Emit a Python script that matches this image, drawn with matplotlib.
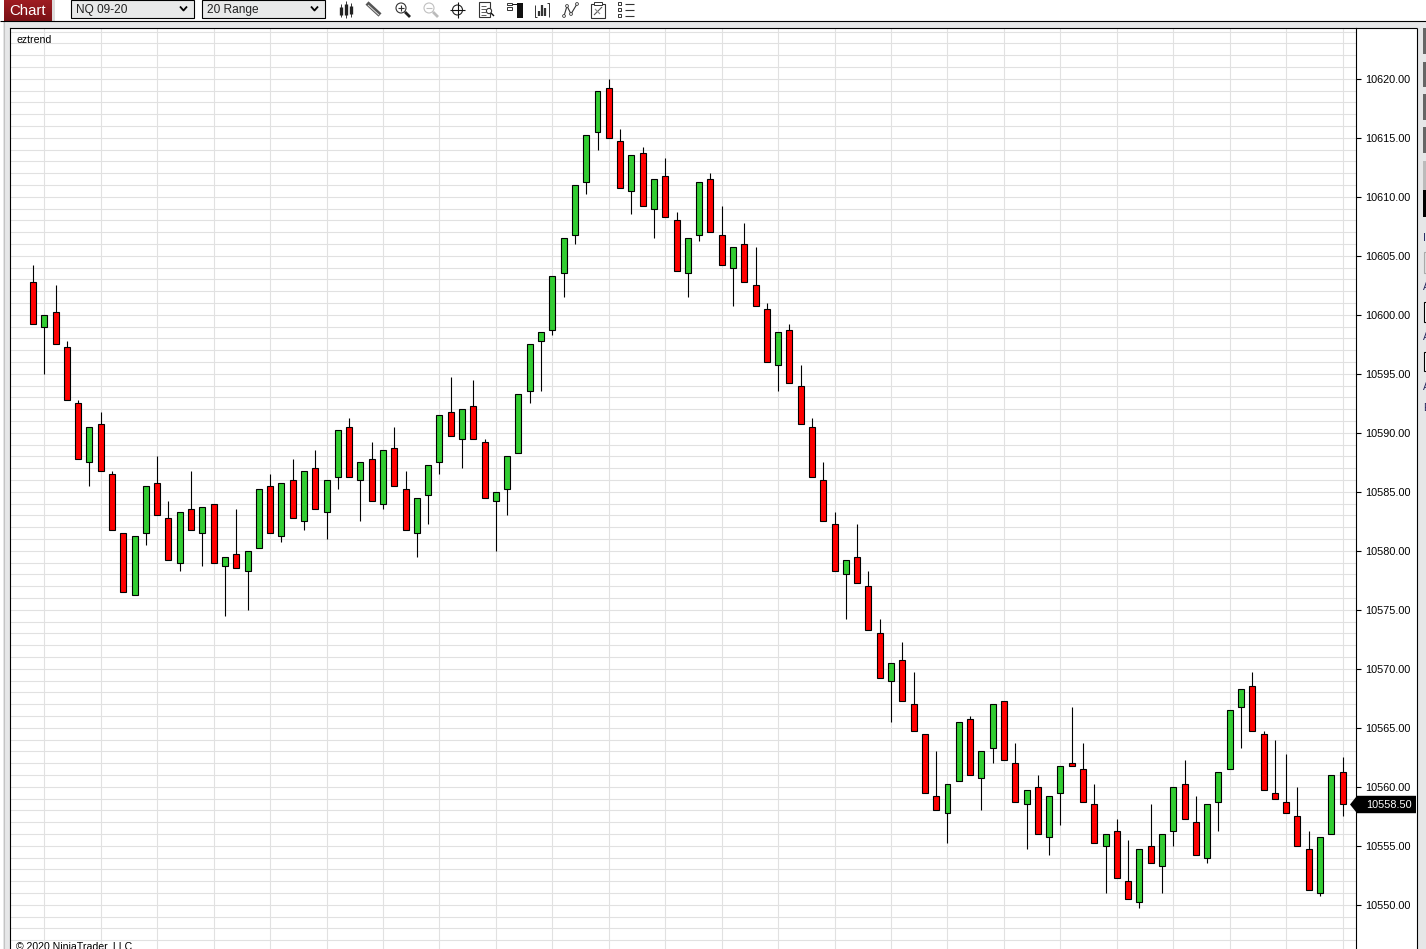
import numpy as np
import matplotlib
matplotlib.use('Agg')
import matplotlib.pyplot as plt
from matplotlib.patches import Rectangle, Circle, Polygon
from matplotlib.ticker import MultipleLocator, FormatStrFormatter, FixedLocator
from matplotlib.transforms import blended_transform_factory

plt.rcParams['font.family'] = ['Liberation Sans', 'DejaVu Sans']

opens = [10602.75, 10599.00, 10600.25, 10597.25, 10592.50, 10587.50, 10590.75, 10586.50, 10581.50, 10576.25,
         10581.50, 10585.75, 10582.75, 10579.00, 10583.50, 10581.50, 10584.00, 10578.75, 10579.75, 10578.25,
         10580.25, 10585.50, 10581.25, 10586.00, 10582.50, 10587.00, 10583.25, 10586.25, 10590.50, 10586.00,
         10587.75, 10584.00, 10588.75, 10585.25, 10581.50, 10584.75, 10587.50, 10591.75, 10589.50, 10592.25,
         10589.25, 10584.25, 10585.25, 10588.25, 10593.50, 10597.75, 10598.75, 10603.50, 10606.75, 10611.25,
         10615.50, 10619.25, 10614.75, 10610.50, 10613.75, 10609.00, 10611.75, 10608.00, 10603.50, 10606.75,
         10611.50, 10606.75, 10604.00, 10606.00, 10602.50, 10600.50, 10595.75, 10598.75, 10594.00, 10590.50,
         10586.00, 10582.25, 10578.00, 10579.50, 10577.00, 10573.00, 10569.00, 10570.75, 10567.00, 10564.50,
         10559.25, 10557.75, 10560.50, 10565.75, 10560.75, 10563.25, 10567.25, 10562.00, 10558.50, 10560.00,
         10555.75, 10559.50, 10562.00, 10561.50, 10558.50, 10555.00, 10556.25, 10552.00, 10550.25, 10555.00,
         10553.25, 10556.25, 10560.25, 10557.00, 10554.00, 10558.75, 10561.50, 10566.75, 10568.50, 10564.50,
         10559.50, 10558.75, 10557.50, 10554.75, 10551.00, 10556.00, 10561.25]
closes = [10599.25, 10600.00, 10597.50, 10592.75, 10587.75, 10590.50, 10586.75, 10581.75, 10576.50, 10581.25,
          10585.50, 10583.00, 10579.25, 10583.25, 10581.75, 10583.75, 10579.00, 10579.50, 10578.50, 10580.00,
          10585.25, 10581.50, 10585.75, 10582.75, 10586.75, 10583.50, 10586.00, 10590.25, 10586.25, 10587.50,
          10584.25, 10588.50, 10585.50, 10581.75, 10584.50, 10587.25, 10591.50, 10589.75, 10592.00, 10589.50,
          10584.50, 10585.00, 10588.00, 10593.25, 10597.50, 10598.50, 10603.25, 10606.50, 10611.00, 10615.25,
          10619.00, 10615.00, 10610.75, 10613.50, 10609.25, 10611.50, 10608.25, 10603.75, 10606.50, 10611.25,
          10607.00, 10604.25, 10605.75, 10602.75, 10600.75, 10596.00, 10598.50, 10594.25, 10590.75, 10586.25,
          10582.50, 10578.25, 10579.25, 10577.25, 10573.25, 10569.25, 10570.50, 10567.25, 10564.75, 10559.50,
          10558.00, 10560.25, 10565.50, 10561.00, 10563.00, 10567.00, 10562.25, 10558.75, 10559.75, 10556.00,
          10559.25, 10561.75, 10561.75, 10558.75, 10555.25, 10556.00, 10552.25, 10550.50, 10554.75, 10553.50,
          10556.00, 10560.00, 10557.25, 10554.25, 10558.50, 10561.25, 10566.50, 10568.25, 10564.75, 10559.75,
          10559.00, 10557.75, 10555.00, 10551.25, 10555.75, 10561.00, 10558.50]
highs = [10604.25, 10600.00, 10602.50, 10597.75, 10592.75, 10590.50, 10591.75, 10586.75, 10581.50, 10581.25,
         10585.50, 10588.00, 10584.25, 10583.25, 10586.75, 10583.75, 10584.00, 10579.50, 10583.50, 10580.00,
         10585.25, 10586.50, 10585.75, 10587.75, 10586.75, 10588.50, 10586.00, 10590.25, 10591.25, 10587.50,
         10589.25, 10588.50, 10590.50, 10586.75, 10584.50, 10587.25, 10591.50, 10594.75, 10592.00, 10594.50,
         10589.50, 10585.00, 10588.00, 10593.25, 10597.50, 10598.50, 10603.25, 10606.50, 10611.00, 10615.25,
         10619.00, 10620.00, 10615.75, 10613.50, 10614.25, 10611.50, 10613.25, 10608.75, 10606.50, 10611.25,
         10612.00, 10609.25, 10605.75, 10607.75, 10605.75, 10601.00, 10598.50, 10599.25, 10595.75, 10591.25,
         10587.50, 10583.25, 10579.25, 10582.25, 10578.25, 10574.25, 10570.50, 10572.25, 10569.75, 10564.50,
         10563.00, 10560.25, 10565.50, 10566.00, 10563.00, 10567.00, 10567.25, 10563.75, 10559.75, 10561.00,
         10559.25, 10561.75, 10566.75, 10563.75, 10560.25, 10556.00, 10557.25, 10555.50, 10554.75, 10558.50,
         10556.00, 10560.00, 10562.25, 10559.25, 10558.50, 10561.25, 10566.50, 10568.25, 10569.75, 10564.75,
         10564.00, 10562.75, 10560.00, 10556.25, 10555.75, 10561.00, 10562.50]
lows = [10599.25, 10595.00, 10597.50, 10592.75, 10587.75, 10585.50, 10586.75, 10581.75, 10576.50, 10576.25,
        10580.50, 10583.00, 10579.25, 10578.25, 10581.75, 10578.75, 10579.00, 10574.50, 10578.50, 10575.00,
        10580.25, 10581.50, 10580.75, 10582.75, 10581.75, 10583.50, 10581.00, 10585.25, 10586.25, 10582.50,
        10584.25, 10583.50, 10585.50, 10581.75, 10579.50, 10582.25, 10586.50, 10589.75, 10587.00, 10589.50,
        10584.50, 10580.00, 10583.00, 10588.25, 10592.50, 10593.50, 10598.25, 10601.50, 10606.00, 10610.25,
        10614.00, 10615.00, 10610.75, 10608.50, 10609.25, 10606.50, 10608.25, 10603.75, 10601.50, 10606.25,
        10607.00, 10604.25, 10600.75, 10602.75, 10600.75, 10596.00, 10593.50, 10594.25, 10590.75, 10586.25,
        10582.50, 10578.25, 10574.25, 10577.25, 10573.25, 10569.25, 10565.50, 10567.25, 10564.75, 10559.50,
        10558.00, 10555.25, 10560.50, 10561.00, 10558.00, 10562.00, 10562.25, 10558.75, 10554.75, 10556.00,
        10554.25, 10556.75, 10561.75, 10558.75, 10555.25, 10551.00, 10552.25, 10550.50, 10549.75, 10553.50,
        10551.00, 10555.00, 10557.25, 10554.25, 10553.50, 10556.25, 10561.50, 10563.25, 10564.75, 10559.75,
        10559.00, 10557.75, 10555.00, 10551.25, 10550.75, 10556.00, 10557.50]

contract_options = 'NQ 09-20'
period_options = '20 Range'
indicator_label = 'eztrend'
copyright_label = '\u00a9 2020 NinjaTrader, LLC'

W, H = 1426, 949
UP = '#32CD32'
DOWN = '#FF0000'
GRID = '#E1E1E1'

fig = plt.figure(figsize=(W / 100 + 1e-4, H / 100 + 1e-4), dpi=100, facecolor='#E6E7E8')

# pixel canvas for the window around the chart
ui = fig.add_axes([0, 0, 1, 1], zorder=0)
ui.set_xlim(0, W)
ui.set_ylim(H, 0)
ui.axis('off')


def rect(x0, y0, x1, y1, fc='none', ec='none', lw=0.0, z=2):
    ui.add_patch(Rectangle((x0, y0), x1 - x0, y1 - y0, fc=fc, ec=ec, lw=lw, zorder=z))


def line(xs, ys, c='#111111', lw=0.8, z=3):
    ui.plot(xs, ys, color=c, lw=lw, solid_capstyle='butt', zorder=z)


# toolbar and window edges
rect(0, 0, W, 21, fc='white')
rect(0, 21, 3, H, fc='white')
line([3.5, 3.5], [21, H], c='#C4C4C4', lw=0.8)
line([0, W], [21.5, 21.5], c='black', lw=0.8)
rect(1356, 28.5, 1416.5, H, fc='white')
line([1416.5, 1416.5], [28, H], c='black', lw=0.8)
line([1356, 1416.5], [28.5, 28.5], c='black', lw=0.8)

# Chart tab
tab = np.linspace(0, 1, 30).reshape(-1, 1)
ui.imshow(tab, extent=(4, 52, 21, 0), cmap=matplotlib.colors.LinearSegmentedColormap.from_list(
    'tab', ['#A01C22', '#7A1216']), aspect='auto', zorder=2)
ui.set_xlim(0, W)
ui.set_ylim(H, 0)
rect(52, 0, 55, 21, fc='#DDDDDD')
ui.text(28, 10.5, 'Chart', color='white', fontsize=10.8, ha='center', va='center', zorder=4)

# combo boxes
for x0, x1, label in [(70.5, 194, contract_options), (201.5, 325, period_options)]:
    rect(x0, 0.5, x1, 18, fc='#E8E9E9', ec='black', lw=0.8)
    ui.text(x0 + 5.5, 9.5, label, color='#222222', fontsize=8.6, va='center', zorder=4)
    line([x1 - 14, x1 - 10.5, x1 - 7], [6.5, 10.5, 6.5], c='black', lw=1.3, z=4)

# toolbar icons
for x, top, bottom, y0, y1 in [(341, 7, 15, 4, 17), (346, 4, 15, 1, 18), (351, 6, 14, 3, 17)]:
    line([x, x], [y0, y1], c='#333333', lw=0.7)
    line([x, x], [top, bottom], c='#222222', lw=2.4)
line([367, 380], [3, 15], c='#555555', lw=3.2)
line([368, 379], [5, 15], c='#DDDDDD', lw=0.7, z=4)
for x, c, c2 in [(401, '#333333', '#222222'), (429, '#C0C0C0', '#BBBBBB')]:
    ui.add_patch(Circle((x, 8), 5, fc='none', ec=c, lw=0.8, zorder=3))
    line([x - 3, x + 3], [8, 8], c=c)
    if x == 401:
        line([x, x], [5, 11], c=c)
    line([x + 4, x + 9], [12, 17], c=c2, lw=2.0)
ui.add_patch(Circle((457.5, 10), 5, fc='none', ec='#222222', lw=0.8, zorder=3))
line([457.5, 457.5], [2, 18])
line([450, 465], [10, 10])
rect(479, 2.5, 490, 17.5, ec='#333333', lw=0.8)
for y in (6, 9, 12, 15):
    line([481, 486], [y, y], c='#444444', lw=0.6)
ui.add_patch(Circle((489, 11), 2.6, fc='white', ec='#333333', lw=0.8, zorder=4))
line([491, 494], [13, 16], lw=1.0, z=4)
rect(507, 3, 512, 5.5, ec='#333333', lw=0.7)
rect(507, 7, 512, 10, ec='#333333', lw=0.7)
line([512, 517], [4, 4], lw=0.7)
rect(517, 3, 522.5, 18, fc='#111111')
line([535, 535, 537], [5, 17, 17], c='#333333', lw=0.7)
line([547, 549, 549], [3, 3, 17], c='#333333', lw=0.7)
for x, top in [(539, 11), (542, 5), (545, 8)]:
    line([x, x], [top, 16], c='#333333', lw=1.6)
line([564, 567, 571, 577], [16, 6, 14, 4], c='#333333', lw=0.8)
for x, y in [(564, 16), (567, 6), (571, 14), (577, 4)]:
    ui.add_patch(Circle((x, y), 1.4, fc='white', ec='#333333', lw=0.6, zorder=4))
rect(591, 4, 605, 18, ec='#333333', lw=0.8)
rect(594, 2, 602, 5, fc='white', ec='#333333', lw=0.7)
line([594, 602], [15, 7], c='#555555', lw=0.8)
line([595, 600], [9, 14], c='#888888', lw=0.8)
for y in (4, 10, 16):
    rect(618, y - 1.5, 621, y + 1.5, ec='#333333', lw=0.7)
    line([625, 634], [y, y], c='#333333', lw=0.8)

# side panel scraps on the right edge
for y0, y1, c in [(28, 54, '#666666'), (62, 87, '#666666'), (94, 120, '#666666'), (127, 153, '#666666'),
                  (161, 190, '#BBBBBB'), (190, 217, '#000000')]:
    rect(1423, y0, W, y1, fc=c)
rect(1423.5, 252, W + 2, 273, fc='#E3E3E3', ec='#AAAAAA', lw=0.8)
rect(1423.5, 302.5, W + 2, 322, fc='white', ec='black', lw=0.8)
rect(1423.5, 352.5, W + 2, 371, fc='white', ec='black', lw=0.8)
for y, s in [(238, 'I'), (287, 'A'), (337, 'A'), (387, 'A'), (408, 'E')]:
    ui.text(1423, y, s, color='#25255E', fontsize=7.4, va='center', zorder=4)

# chart pane
px_per_point = 11.8
y_ref = 78.8
x_first, x_step = 33.0, 11.29
left, right, top = 10.0, 1356.0, 28.0
ax = fig.add_axes([left / W, 0, (right - left) / W, 1 - top / H], zorder=1, facecolor='white')
ax.set_xlim((left - x_first) / x_step, (right - x_first) / x_step)
ax.set_ylim(10620 - (H - y_ref) / px_per_point, 10620 + (y_ref - top) / px_per_point)

x = np.arange(len(opens))
o = np.array(opens)
c = np.array(closes)
colors = [DOWN if a > b else UP for a, b in zip(o, c)]

ax.vlines(x, lows, highs, color='black', lw=0.8, zorder=3)
ax.bar(x, np.abs(o - c), bottom=np.minimum(o, c), width=0.53, color=colors, edgecolor='black',
       linewidth=0.8, zorder=4)

ax.yaxis.set_major_locator(MultipleLocator(5))
ax.yaxis.set_minor_locator(MultipleLocator(1))
ax.yaxis.set_major_formatter(FormatStrFormatter('%.2f'))
ax.xaxis.set_major_locator(FixedLocator(x[1::5]))
ax.tick_params(axis='x', bottom=False, labelbottom=False)
ax.yaxis.tick_right()
ax.tick_params(axis='y', which='major', length=3.6, width=0.8, pad=3, labelsize=7.8, colors='black')
ax.tick_params(axis='y', which='minor', length=0)
ax.grid(True, axis='y', which='both', color=GRID, lw=0.8, zorder=0)
ax.grid(True, axis='x', which='major', color=GRID, lw=0.8, zorder=0)
ax.set_axisbelow(True)
for s in ax.spines.values():
    s.set_linewidth(0.8)
    s.set_color('black')
ax.spines['bottom'].set_visible(False)

ui_y = blended_transform_factory(ui.transData, ax.transData)
ui_trans = ui.transData
ax.text(16, 40, indicator_label, transform=ui_trans, fontsize=7.6, va='center', zorder=6)
ax.text(16, 950, copyright_label, transform=ui_trans, fontsize=7.6, va='baseline', zorder=6, clip_on=True)

# last price flag
last = closes[-1]
half = 8.7 / px_per_point
ax.add_patch(Polygon([(1350, last), (1357, last + half), (1416, last + half), (1416, last - half),
                      (1357, last - half)], closed=True, fc='black', ec='none', transform=ui_y,
                     clip_on=False, zorder=7))
ax.text(1365.7, last, '%.2f' % last, transform=ui_y, color='white', fontsize=7.8, va='center', zorder=8,
        clip_on=False)

fig.savefig('out.png', dpi=100, facecolor=fig.get_facecolor())
